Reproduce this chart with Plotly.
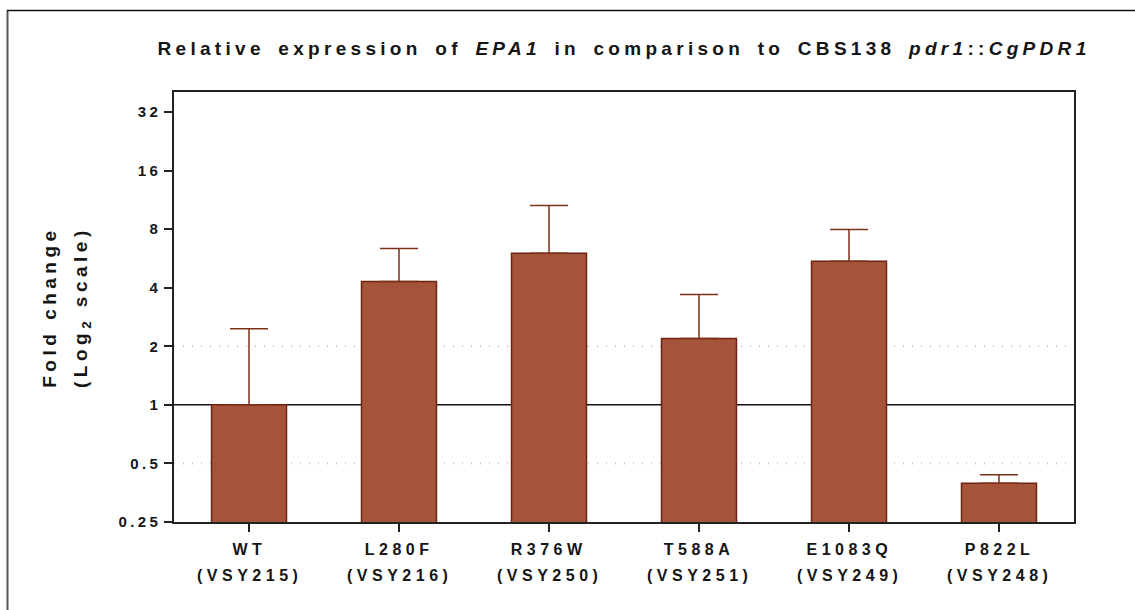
import plotly.graph_objects as go

# ---- data ----
mutations = ["WT", "L280F", "R376W", "T588A", "E1083Q", "P822L"]
strains = ["(VSY215)", "(VSY216)", "(VSY250)", "(VSY251)", "(VSY249)", "(VSY248)"]
fold_change = [1.0, 4.30, 6.01, 2.19, 5.47, 0.396]
error_top = [2.46, 6.35, 10.57, 3.69, 7.95, 0.437]
y_ticks = [0.25, 0.5, 1, 2, 4, 8, 16, 32]
y_tick_text = ["0.25", "0.5", "1", "2", "4", "8", "16", "32"]
dotted_refs = [0.5, 2]
baseline = 1

err_plus = [t - v for t, v in zip(error_top, fold_change)]
err_minus = [0 for _ in fold_change]

FONT = "Liberation Sans, Arial, sans-serif"
BAR_FILL = "#A4543A"
BAR_LINE = "#6E2410"
ERR_COL = "#7F3018"
AX_COL = "#222222"
TXT = "#151515"

W, H = 1135, 610
ML, MR, MT, MB = 174, 61, 92, 88
PW, PH = W - ML - MR, H - MT - MB


def px_x(p):
    return (p - ML) / PW


def px_y(p):
    return (H - MB - p) / PH


fig = go.Figure()
fig.add_trace(go.Bar(
    x=mutations, y=fold_change, width=0.5,
    marker=dict(color=BAR_FILL, line=dict(color=BAR_LINE, width=1.5)),
    error_y=dict(type="data", symmetric=False, array=err_plus, arrayminus=err_minus,
                 color=ERR_COL, thickness=1.5, width=19),
    showlegend=False, hoverinfo="skip",
))

shapes = []
for r in dotted_refs:
    shapes.append(dict(type="line", xref="paper", yref="y", x0=0, x1=1, y0=r, y1=r,
                       line=dict(color="#c4c4c4", width=2, dash="1px,8px"), layer="below"))
shapes.append(dict(type="line", xref="paper", yref="y", x0=0, x1=1, y0=baseline, y1=baseline,
                   line=dict(color="#111111", width=1.5), layer="below"))
# outer frame (left + top edge of the figure image)
shapes.append(dict(type="line", xref="paper", yref="paper", x0=px_x(7.5), x1=px_x(7.5),
                   y0=px_y(H + 5), y1=px_y(10), line=dict(color="#555555", width=2)))
shapes.append(dict(type="line", xref="paper", yref="paper", x0=px_x(7), x1=px_x(W + 5),
                   y0=px_y(10.5), y1=px_y(10.5), line=dict(color="#111111", width=1.5)))

annotations = [
    dict(text="Fold change", xref="paper", yref="paper", x=px_x(49), y=0.5,
         textangle=-90, showarrow=False, xanchor="center", yanchor="middle",
         font=dict(size=19, family=FONT, color=TXT, weight="bold")),
    dict(text="(Log<sub>2</sub> scale)", xref="paper", yref="paper", x=px_x(82), y=0.5,
         textangle=-90, showarrow=False, xanchor="center", yanchor="middle",
         font=dict(size=19, family=FONT, color=TXT, weight="bold")),
]
for m, s in zip(mutations, strains):
    annotations.append(dict(text=m, xref="x", yref="paper", x=m, y=px_y(549),
                            showarrow=False, xanchor="center", yanchor="middle",
                            font=dict(size=16, family=FONT, color=TXT, weight="bold")))
    annotations.append(dict(text=s, xref="x", yref="paper", x=m, y=px_y(575),
                            showarrow=False, xanchor="center", yanchor="middle",
                            font=dict(size=16, family=FONT, color=TXT, weight="bold")))

fig.update_layout(
    width=W, height=H,
    margin=dict(l=ML, r=MR, t=MT, b=MB, pad=0),
    paper_bgcolor="white", plot_bgcolor="white",
    font=dict(family=FONT, color=TXT, weight="bold"),
    title=dict(text="Relative expression of <i>EPA1</i> in comparison to CBS138 <i>pdr1</i>::<i>CgPDR1</i>",
               x=0.5, xref="paper", xanchor="center", y=1 - 48 / H, yref="container",
               yanchor="middle", font=dict(size=19, family=FONT, color=TXT, weight="bold")),
    xaxis=dict(type="category", range=[-0.5, len(mutations) - 0.5], showgrid=False,
               showline=True, mirror=True, linecolor=AX_COL, linewidth=1.5,
               ticks="outside", ticklen=8, tickwidth=1.5, tickcolor=AX_COL,
               showticklabels=False, zeroline=False),
    yaxis=dict(type="log", range=[-0.60206, 1.6075], showgrid=False,
               showline=True, mirror=True, linecolor=AX_COL, linewidth=1.5,
               ticks="outside", ticklen=8, tickwidth=1.5, tickcolor=AX_COL,
               tickvals=y_ticks, ticktext=y_tick_text,
               tickfont=dict(size=15, family=FONT, color=TXT, weight="bold"),
               zeroline=False),
    shapes=shapes, annotations=annotations, bargap=0.5,
)

post = """
var gd = document.getElementById('{plot_id}');
function sp(sel, v, w){ gd.querySelectorAll(sel).forEach(function(t){ t.style.letterSpacing = v; if (w) { t.style.wordSpacing = w; } }); }
sp('.gtitle', '4.3px', '4px');
sp('.annotation-text', '4.5px', '0px');
sp('.ytick text', '3.4px');
"""

fig.write_html("out.html", post_script=post, config={"displayModeBar": False})
